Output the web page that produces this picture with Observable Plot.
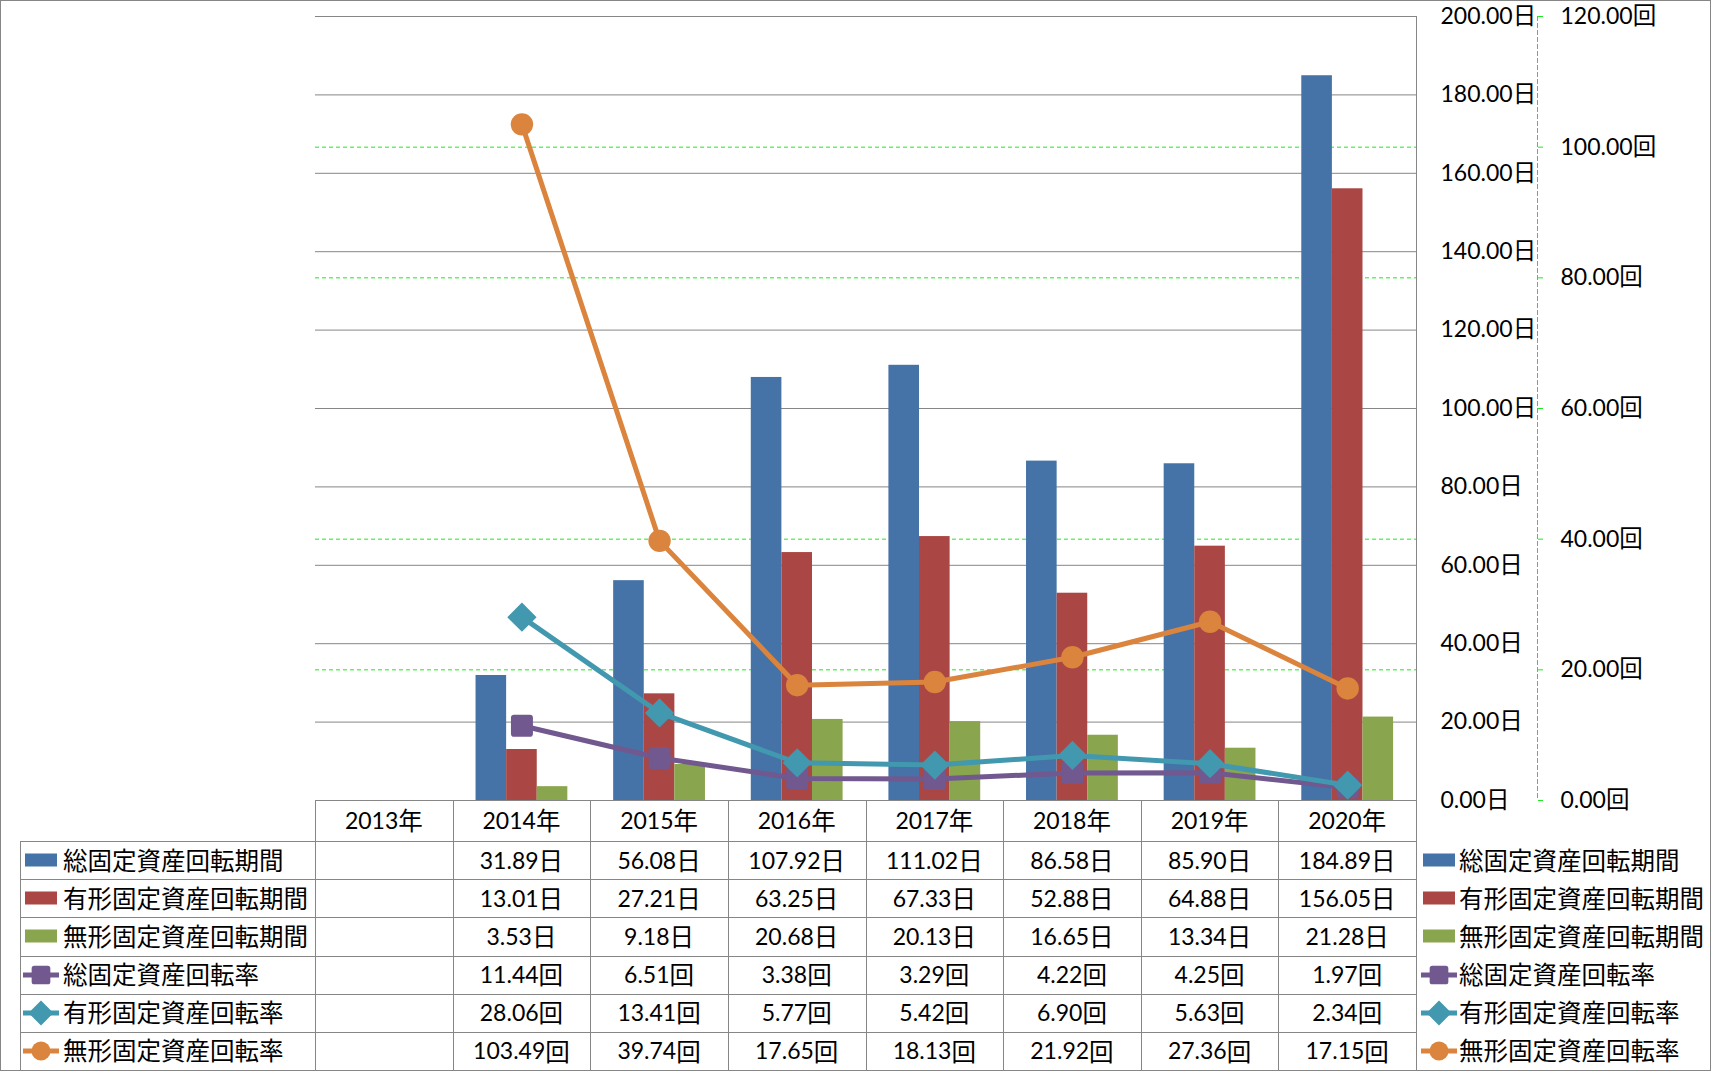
<!DOCTYPE html>
<html><head><meta charset="utf-8">
<script src="https://cdn.jsdelivr.net/npm/d3@7"></script>
<script src="https://cdn.jsdelivr.net/npm/@observablehq/plot@0.6"></script>
<style>
body{margin:0;background:#fff;}
#wrap{position:relative;width:1716px;height:1071px;font-family:Lato,"Noto Sans CJK JP",sans-serif;font-size:23px;color:#000;overflow:hidden;}
#wrap svg.chart{position:absolute;left:0;top:0;}
.hl{position:absolute;height:1px;background:#868686;}
.vl{position:absolute;width:1px;background:#868686;}
.cell{position:absolute;display:flex;align-items:center;justify-content:center;white-space:nowrap;line-height:1;}
.leg{position:absolute;display:flex;align-items:center;white-space:nowrap;line-height:1;}
.cjk{font-family:"Noto Sans CJK JP";font-size:24.5px;}
#frame{position:absolute;left:0;top:0;width:1711px;height:1071px;box-sizing:border-box;border:1px solid #868686;}
</style></head>
<body><div id="wrap"><div id="frame"></div></div>
<script>
// ---- data ----
const years = ["2013年","2014年","2015年","2016年","2017年","2018年","2019年","2020年"];
const dataYears = ["2014年","2015年","2016年","2017年","2018年","2019年","2020年"];
const seriesNames = ["総固定資産回転期間","有形固定資産回転期間","無形固定資産回転期間","総固定資産回転率","有形固定資産回転率","無形固定資産回転率"];
const totalPeriod = [31.89, 56.08, 107.92, 111.02, 86.58, 85.90, 184.89];
const tangiblePeriod = [13.01, 27.21, 63.25, 67.33, 52.88, 64.88, 156.05];
const intangiblePeriod = [3.53, 9.18, 20.68, 20.13, 16.65, 13.34, 21.28];
const totalRate = [11.44, 6.51, 3.38, 3.29, 4.22, 4.25, 1.97];
const tangibleRate = [28.06, 13.41, 5.77, 5.42, 6.90, 5.63, 2.34];
const intangibleRate = [103.49, 39.74, 17.65, 18.13, 21.92, 27.36, 17.15];
const periodTicks = [0, 20, 40, 60, 80, 100, 120, 140, 160, 180, 200];
const rateTicks = [0, 20, 40, 60, 80, 100, 120];
const periodUnit = "日";
const rateUnit = "回";

// ---- styling ----
const colors = ["#4572A7", "#AA4643", "#89A54E", "#71588F", "#4198AF", "#DB843D"];
const gray = "#868686";
const green = "#1ee81e";
const k = 200 / 120; // secondary -> primary units

const roundedSquare = {
  draw(ctx, size) {
    const s = Math.sqrt(size) / 2, rr = s * 0.28;
    ctx.moveTo(-s + rr, -s);
    ctx.arcTo(s, -s, s, s, rr);
    ctx.arcTo(s, s, -s, s, rr);
    ctx.arcTo(-s, s, -s, -s, rr);
    ctx.arcTo(-s, -s, s, -s, rr);
    ctx.closePath();
  }
};
const symbols = [roundedSquare, "diamond2", "circle"];
const symbolR = [12.4, 13.2, 11.2];

const barSeries = [totalPeriod, tangiblePeriod, intangiblePeriod];
const lineSeries = [totalRate, tangibleRate, intangibleRate];

const W = 1716, H = 1071;
const mL = 315, mR = 300, mT = 16, mB = 271;
const band = (W - mL - mR) / years.length;
const barW = 30.6;
const inset = (band - barW) / 2;

const marks = [];
marks.push(Plot.ruleY(rateTicks.slice(1, -1), {y: d => d * k, stroke: green, strokeWidth: 1, strokeDasharray: "4,3"}));
marks.push(Plot.ruleY(periodTicks.slice(1), {stroke: gray, strokeWidth: 1}));
marks.push(Plot.frame({anchor: "right", stroke: gray}));
barSeries.forEach((vals, s) => {
  marks.push(Plot.barY(dataYears.map((year, i) => ({year, v: vals[i]})), {
    x: "year", y: "v", fill: colors[s], insetLeft: inset, insetRight: inset, dx: (s - 1) * barW
  }));
});
lineSeries.forEach((vals, s) => {
  const rows = dataYears.map((year, i) => ({year, v: vals[i]}));
  marks.push(Plot.line(rows, {x: "year", y: d => d.v * k, stroke: colors[3 + s], strokeWidth: 5, strokeLinejoin: "round"}));
  marks.push(Plot.dot(rows, {x: "year", y: d => d.v * k, fill: colors[3 + s], symbol: symbols[s], r: symbolR[s], stroke: "none"}));
});
marks.push(Plot.axisY(periodTicks, {anchor: "right", label: null, tickSize: 0, tickPadding: 24, tickFormat: d => d.toFixed(2) + periodUnit}));
marks.push(Plot.frame({anchor: "right", dx: 121, stroke: green, strokeDasharray: "4,3"}));
marks.push(Plot.axisY(rateTicks.map(d => d * k), {anchor: "right", label: null, dx: 121, tickSize: 5, tickPadding: 18, stroke: green, fill: "#000", tickFormat: d => (d / k).toFixed(2) + rateUnit}));

const svg = Plot.plot({
  width: W, height: H,
  marginLeft: mL, marginRight: mR, marginTop: mT, marginBottom: mB,
  x: {type: "band", domain: years, padding: 0, round: false, axis: null},
  y: {domain: [0, 200], axis: null, label: null},
  style: {fontFamily: 'Lato, "Noto Sans CJK JP", sans-serif', fontSize: "23px", color: "#000", background: "transparent", overflow: "visible"},
  marks
});
svg.classList.add("chart");
const wrap = document.getElementById("wrap");
wrap.appendChild(svg);

// wrap CJK in tspans for axis labels
const cjkRe = /([\u3000-\u9fff\uff00-\uffef]+)/;
svg.querySelectorAll("text").forEach(t => {
  if (t.children.length) return;
  const str = t.textContent;
  if (!cjkRe.test(str)) return;
  t.textContent = "";
  str.split(cjkRe).forEach(part => {
    if (!part) return;
    const ts = document.createElementNS("http://www.w3.org/2000/svg", "tspan");
    ts.textContent = part;
    if (cjkRe.test(part)) { ts.setAttribute("font-family", "Noto Sans CJK JP"); ts.setAttribute("font-size", "23.5"); }
    t.appendChild(ts);
  });
});

function rich(el, str) {
  str.split(cjkRe).forEach(part => {
    if (!part) return;
    if (cjkRe.test(part)) { const sp = document.createElement("span"); sp.className = "cjk"; sp.textContent = part; el.appendChild(sp); }
    else el.appendChild(document.createTextNode(part));
  });
}
function div(cls, css) { const d = document.createElement("div"); d.className = cls; Object.assign(d.style, css); wrap.appendChild(d); return d; }

// ---- table ----
const tableTop = H - mB;          // 800
const headerBottom = 841;
const tableBottom = 1070;
const rowH = (tableBottom - headerBottom) / seriesNames.length;
const legLeft = 20;
const xRight = W - mR;            // 1416

div("hl", {left: mL + "px", top: tableTop + "px", width: (xRight - mL + 1) + "px"});
for (let r = 0; r <= seriesNames.length; r++) {
  div("hl", {left: legLeft + "px", top: Math.round(headerBottom + r * rowH) + "px", width: (xRight - legLeft + 1) + "px"});
}
div("vl", {left: legLeft + "px", top: headerBottom + "px", height: (tableBottom - headerBottom) + "px"});
for (let c = 0; c <= years.length; c++) {
  div("vl", {left: Math.round(mL + c * band) + "px", top: tableTop + "px", height: (tableBottom - tableTop) + "px"});
}
years.forEach((y, c) => {
  const d = div("cell", {left: (mL + c * band) + "px", top: tableTop + "px", width: band + "px", height: (headerBottom - tableTop) + "px"});
  rich(d, y);
});
const allSeries = [totalPeriod, tangiblePeriod, intangiblePeriod, totalRate, tangibleRate, intangibleRate];
allSeries.forEach((vals, r) => {
  const unit = r < 3 ? periodUnit : rateUnit;
  dataYears.forEach((y, i) => {
    const c = years.indexOf(y);
    const d = div("cell", {left: (mL + c * band) + "px", top: (headerBottom + r * rowH) + "px", width: band + "px", height: rowH + "px"});
    rich(d, vals[i].toFixed(2) + unit);
  });
});

function swatch(s) {
  const ns = "http://www.w3.org/2000/svg";
  const sv = document.createElementNS(ns, "svg");
  sv.setAttribute("width", 36); sv.setAttribute("height", 26);
  sv.style.flex = "none";
  if (s < 3) {
    const r = document.createElementNS(ns, "rect");
    r.setAttribute("x", 2); r.setAttribute("y", 6.5); r.setAttribute("width", 32); r.setAttribute("height", 13);
    r.setAttribute("fill", colors[s]); sv.appendChild(r);
  } else {
    const l = document.createElementNS(ns, "line");
    l.setAttribute("x1", 0); l.setAttribute("x2", 36); l.setAttribute("y1", 13); l.setAttribute("y2", 13);
    l.setAttribute("stroke", colors[s]); l.setAttribute("stroke-width", 5); sv.appendChild(l);
    const p = document.createElementNS(ns, "path");
    const sym = symbols[s - 3] === "diamond2" ? d3.symbolDiamond2 : symbols[s - 3] === "circle" ? d3.symbolCircle : roundedSquare;
    const rr = symbolR[s - 3] * 0.85;
    p.setAttribute("d", d3.symbol(sym, Math.PI * rr * rr)());
    p.setAttribute("transform", "translate(18,13)");
    p.setAttribute("fill", colors[s]); sv.appendChild(p);
  }
  return sv;
}
seriesNames.forEach((name, r) => {
  const top = headerBottom + r * rowH;
  const a = div("leg", {left: (legLeft + 3) + "px", top: top + "px", height: rowH + "px"});
  a.appendChild(swatch(r));
  const ta = document.createElement("span"); ta.style.marginLeft = "4px"; rich(ta, name); a.appendChild(ta);
  const b = div("leg", {left: (xRight + 5) + "px", top: top + "px", height: rowH + "px"});
  b.appendChild(swatch(r));
  const tb = document.createElement("span"); tb.style.marginLeft = "2px"; rich(tb, name); b.appendChild(tb);
});
</script>
</body></html>
